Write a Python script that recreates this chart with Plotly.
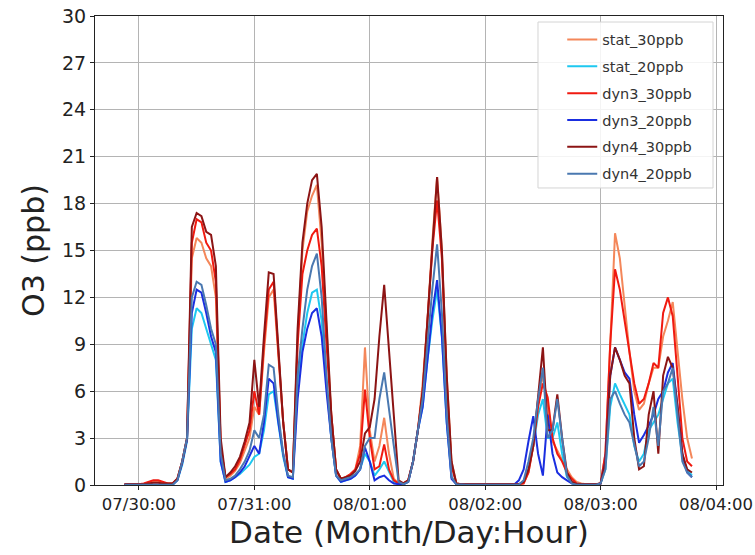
import pandas as pd
import plotly.graph_objects as go

# Hourly timestamps, 07/29 21:00 through 08/03 19:00
times = pd.date_range("2019-07-29 21:00", periods=119, freq="h")

# Hourly O3 (ppb) per run, one day per line
stat_30 = (
    [0.05, 0.05, 0.05]
    + [0.05, 0.05, 0.1, 0.2, 0.25, 0.15, 0.1, 0.1, 0.4, 1.5, 3.0, 14.5, 15.8, 15.5, 14.5, 14.0, 12.0, 2.5, 0.4, 0.6, 0.9, 1.4, 2.2, 3.0]
    + [5.0, 4.5, 8.5, 12.0, 12.5, 8.5, 4.0, 1.0, 0.8, 9.5, 15.0, 17.5, 18.5, 19.2, 15.5, 10.0, 4.5, 1.0, 0.4, 0.5, 0.7, 1.0, 2.5, 8.8]
    + [3.5, 1.5, 2.5, 4.3, 2.0, 0.4, 0.1, 0.1, 0.3, 1.5, 3.5, 6.5, 10.5, 15.5, 19.7, 15.0, 7.0, 1.5, 0.1, 0.05, 0.05, 0.05, 0.05, 0.05]
    + [0.05] * 8 + [0.1, 0.8, 2.5, 5.5, 7.0, 5.2, 2.8, 2.2, 1.5, 1.0, 0.5, 0.2, 0.1, 0.05, 0.05, 0.05]
    + [0.1, 2.0, 9.0, 16.1, 14.5, 11.5, 8.5, 6.0, 4.8, 5.2, 6.5, 7.5, 7.5, 9.5, 10.5, 11.7, 8.5, 5.5, 3.0, 1.7]
)
stat_20 = (
    [0.02, 0.02, 0.02]
    + [0.02] * 8 + [0.3, 1.3, 2.8, 10.0, 11.3, 11.0, 10.0, 9.0, 8.0, 1.5, 0.2, 0.3, 0.5, 0.7, 1.0, 1.3]
    + [1.8, 2.0, 3.5, 5.8, 6.0, 3.8, 1.8, 0.5, 0.4, 6.5, 9.0, 11.0, 12.3, 12.5, 10.5, 6.5, 3.0, 0.6, 0.2, 0.3, 0.4, 0.6, 1.0, 2.0]
    + [1.5, 0.6, 1.0, 1.5, 0.8, 0.2, 0.05, 0.05, 0.2, 1.5, 3.5, 5.0, 8.0, 10.5, 12.5, 9.5, 4.0, 0.5, 0.05, 0.02, 0.02, 0.02, 0.02, 0.02]
    + [0.02] * 8 + [0.2, 1.0, 2.5, 4.5, 5.5, 3.0, 3.0, 4.0, 2.0, 0.5, 0.2, 0.1, 0.02, 0.02, 0.02, 0.02]
    + [0.1, 1.0, 5.0, 6.5, 5.8, 5.2, 4.5, 2.5, 1.5, 2.0, 3.5, 4.0, 4.5, 5.5, 6.5, 6.8, 4.0, 1.8, 1.0, 0.6]
)
dyn3_30 = (
    [0.05, 0.05, 0.05]
    + [0.05, 0.1, 0.2, 0.3, 0.3, 0.2, 0.1, 0.1, 0.4, 1.5, 3.0, 15.5, 17.0, 16.8, 15.5, 15.0, 13.0, 2.5, 0.5, 0.7, 1.0, 1.6, 2.5, 3.5]
    + [6.0, 4.5, 9.0, 12.5, 13.0, 8.5, 4.0, 1.0, 0.8, 9.0, 13.5, 15.0, 16.0, 16.4, 14.0, 9.0, 4.5, 1.0, 0.4, 0.5, 0.7, 1.0, 2.0, 6.1]
    + [3.0, 1.0, 1.2, 2.6, 1.0, 0.3, 0.1, 0.1, 0.3, 1.5, 3.5, 6.0, 10.5, 15.0, 18.2, 14.5, 6.5, 1.2, 0.1, 0.05, 0.05, 0.05, 0.05, 0.05]
    + [0.05] * 8 + [0.1, 0.8, 2.5, 5.0, 6.5, 5.6, 3.0, 2.0, 1.5, 0.8, 0.4, 0.1, 0.05, 0.05, 0.05, 0.05]
    + [0.1, 2.0, 9.0, 13.8, 12.5, 10.5, 8.5, 6.5, 5.2, 5.5, 6.5, 7.8, 7.5, 11.0, 12.0, 10.8, 7.0, 3.0, 1.5, 1.2]
)
dyn3_20 = (
    [0.02, 0.02, 0.02]
    + [0.02] * 8 + [0.3, 1.4, 2.9, 11.0, 12.5, 12.3, 11.0, 9.5, 8.5, 1.5, 0.2, 0.3, 0.5, 0.8, 1.2, 1.8]
    + [2.5, 2.0, 4.0, 6.8, 6.5, 4.0, 2.0, 0.5, 0.4, 5.5, 8.5, 10.0, 11.0, 11.3, 9.5, 6.0, 3.0, 0.6, 0.2, 0.3, 0.4, 0.6, 1.0, 2.4]
    + [1.5, 0.3, 0.5, 0.6, 0.3, 0.1, 0.05, 0.05, 0.2, 1.5, 3.5, 5.0, 8.0, 11.0, 13.1, 9.5, 4.0, 0.4, 0.05, 0.02, 0.02, 0.02, 0.02, 0.02]
    + [0.02] * 7 + [0.3, 1.0, 2.8, 4.4, 2.0, 0.6, 4.5, 2.0, 0.8, 0.5, 0.3, 0.1, 0.02, 0.02, 0.02, 0.02, 0.02]
    + [0.1, 1.5, 7.0, 8.8, 8.0, 7.2, 6.8, 4.5, 2.7, 3.2, 3.8, 4.5, 5.5, 6.0, 7.2, 7.8, 5.0, 2.0, 0.8, 0.5]
)
dyn4_30 = (
    [0.05, 0.05, 0.05]
    + [0.05, 0.05, 0.1, 0.15, 0.15, 0.1, 0.1, 0.1, 0.4, 1.5, 3.0, 16.5, 17.4, 17.2, 16.2, 16.0, 14.0, 3.0, 0.5, 0.8, 1.2, 1.8, 2.8, 4.0]
    + [8.0, 5.0, 9.5, 13.6, 13.5, 9.0, 4.0, 1.0, 0.8, 10.0, 15.5, 18.0, 19.5, 19.9, 16.5, 10.5, 4.5, 1.0, 0.4, 0.5, 0.6, 0.9, 1.5, 3.3]
    + [3.7, 5.5, 9.5, 12.8, 8.5, 4.5, 0.3, 0.1, 0.3, 1.5, 3.5, 6.0, 10.5, 15.5, 19.7, 15.0, 7.0, 1.5, 0.1, 0.05, 0.05, 0.05, 0.05, 0.05]
    + [0.05] * 8 + [0.2, 1.0, 2.5, 5.5, 8.8, 3.5, 3.5, 5.8, 3.0, 0.8, 0.2, 0.05, 0.05, 0.05, 0.05, 0.05]
    + [0.1, 1.5, 7.0, 8.8, 8.0, 7.0, 6.5, 3.0, 1.0, 1.2, 4.5, 6.0, 2.0, 7.0, 8.2, 7.5, 5.0, 2.0, 1.0, 0.8]
)
dyn4_20 = (
    [0.02, 0.02, 0.02]
    + [0.02] * 8 + [0.3, 1.5, 3.0, 12.0, 13.0, 12.8, 11.5, 10.0, 9.0, 2.0, 0.3, 0.4, 0.6, 1.0, 1.5, 2.2]
    + [3.5, 3.0, 4.5, 7.7, 7.5, 4.5, 2.0, 0.6, 0.5, 7.0, 10.0, 12.5, 14.0, 14.8, 12.0, 7.0, 3.0, 0.6, 0.3, 0.4, 0.5, 0.7, 1.0, 2.5]
    + [3.0, 3.0, 5.5, 7.2, 5.0, 2.5, 0.2, 0.05, 0.2, 1.5, 3.5, 5.5, 9.0, 12.5, 15.4, 11.0, 4.5, 0.5, 0.05, 0.02, 0.02, 0.02, 0.02, 0.02]
    + [0.02] * 8 + [0.3, 1.5, 3.0, 5.5, 7.5, 3.0, 3.5, 5.5, 3.0, 0.6, 0.1, 0.02, 0.02, 0.02, 0.02, 0.02]
    + [0.1, 1.0, 5.5, 6.0, 5.2, 4.5, 4.0, 2.5, 1.2, 1.5, 3.0, 5.0, 2.5, 6.0, 6.5, 7.5, 4.5, 1.5, 0.8, 0.5]
)

names = ["stat_30ppb", "stat_20ppb", "dyn3_30ppb", "dyn3_20ppb", "dyn4_30ppb", "dyn4_20ppb"]
values = [stat_30, stat_20, dyn3_30, dyn3_20, dyn4_30, dyn4_20]
colors = ["#f4875a", "#1ec8f0", "#f01a10", "#1a2ee0", "#8c1414", "#4a78b0"]

y_ticks = list(range(0, 31, 3))
x_ticks = pd.date_range("2019-07-30", periods=6, freq="D")

fig = go.Figure()
for name, vals, col in zip(names, values, colors):
    fig.add_trace(go.Scatter(
        x=times, y=vals, mode="lines", name=name, legendgroup=name,
        line=dict(color=col, width=2),
    ))

# Legend frame drawn as a shape so its padding can be set freely
fig.add_shape(
    type="rect", xref="paper", yref="paper", layer="above",
    x0=0.7054, x1=0.9841, y0=0.6333, y1=0.9872,
    line=dict(color="#d4d4d4", width=1), fillcolor="rgba(255,255,255,0.85)",
)

font_family = "DejaVu Sans"
fig.update_layout(
    width=755, height=555,
    margin=dict(l=95, r=32, t=16, b=70),
    paper_bgcolor="white", plot_bgcolor="white",
    font=dict(family=font_family, color="#222222"),
    showlegend=True,
    legend=dict(
        x=0.744, y=0.984, xanchor="left", yanchor="top",
        bgcolor="rgba(0,0,0,0)", borderwidth=0,
        font=dict(size=14.5, color="#333333"), tracegroupgap=5,
    ),
)
fig.update_xaxes(
    range=["2019-07-29 14:52", "2019-08-04 01:27"],
    tickvals=x_ticks, ticktext=[t.strftime("%m/%d:%H") for t in x_ticks],
    tickfont=dict(size=16.5), ticks="outside", ticklen=4, tickcolor="#222",
    showline=True, linecolor="#222", linewidth=1.2, mirror=True,
    showgrid=True, gridcolor="#b4b4b4", gridwidth=1, zeroline=False,
    automargin=False,
    title=dict(text="Date (Month/Day:Hour)", font=dict(size=31), standoff=8),
)
fig.update_yaxes(
    range=[0, 30], tickvals=y_ticks,
    tickfont=dict(size=19), ticks="outside", ticklen=4, tickcolor="#222",
    showline=True, linecolor="#222", linewidth=1.2, mirror=True,
    showgrid=True, gridcolor="#b4b4b4", gridwidth=1, zeroline=False,
    automargin=False,
    title=dict(text="O3 (ppb)", font=dict(size=30), standoff=8),
)

fig.write_html("out.html")
